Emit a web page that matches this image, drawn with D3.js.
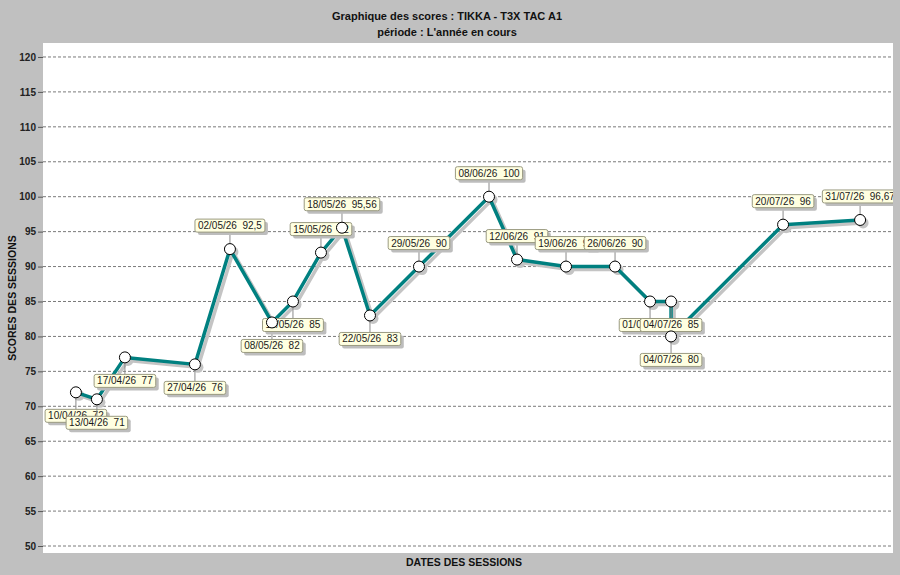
<!DOCTYPE html>
<html>
<head>
<meta charset="utf-8">
<script src="https://cdn.jsdelivr.net/npm/d3@7"></script>
<style>
  body { margin: 0; background: #c0c0c0; }
  svg { display: block; font-family: "Liberation Sans", Arial, sans-serif; }
</style>
</head>
<body>
<svg id="chart" width="900" height="575"></svg>
<script>
// session data
const sessionDates = ["10/04/26", "13/04/26", "17/04/26", "27/04/26", "02/05/26", "08/05/26",
  "11/05/26", "15/05/26", "18/05/26", "22/05/26", "29/05/26", "08/06/26", "12/06/26",
  "19/06/26", "26/06/26", "01/07/26", "04/07/26", "04/07/26", "20/07/26", "31/07/26"];
const sessionScores = [72, 71, 77, 76, 92.5, 82, 85, 92, 95.56, 83, 90, 100, 91, 90, 90,
  85, 85, 80, 96, 96.67];
const yTicks = [50, 55, 60, 65, 70, 75, 80, 85, 90, 95, 100, 105, 110, 115, 120];

const titleLines = ["Graphique des scores : TIKKA - T3X TAC A1", "période : L'année en cours"];
const xTitle = "DATES DES SESSIONS";
const yTitle = "SCORES DES SESSIONS";

const WIDTH = 900;
const HEIGHT = 575;
const plot = { left: 43, top: 43, right: 893, bottom: 553 };

const parseDate = d3.timeParse("%d/%m/%y");
const data = sessionDates.map((d, i) => ({
  label: d,
  date: parseDate(d),
  score: sessionScores[i],
}));

const fr = d3.formatLocale({ decimal: ",", thousands: " ", grouping: [3], currency: ["", " €"] });
const fmt = fr.format("~");

const DAY = 24 * 3600 * 1000;
const pad = 4.7 * DAY;
const [dMin, dMax] = d3.extent(data, (d) => d.date);

const x = d3
  .scaleTime()
  .domain([new Date(+dMin - pad), new Date(+dMax + pad)])
  .range([plot.left, plot.right]);

const y = d3.scaleLinear().domain([49, 122]).range([plot.bottom, plot.top]);

const svg = d3.select("#chart");

svg.append("rect").attr("width", WIDTH).attr("height", HEIGHT).attr("fill", "#c0c0c0");

svg
  .append("rect")
  .attr("x", plot.left)
  .attr("y", plot.top)
  .attr("width", plot.right - plot.left)
  .attr("height", plot.bottom - plot.top)
  .attr("fill", "#ffffff");

svg
  .append("clipPath")
  .attr("id", "plotClip")
  .append("rect")
  .attr("x", plot.left)
  .attr("y", plot.top)
  .attr("width", plot.right - plot.left)
  .attr("height", plot.bottom - plot.top);

// titles
svg
  .selectAll("text.title")
  .data(titleLines)
  .join("text")
  .attr("class", "title")
  .attr("x", 447)
  .attr("y", (d, i) => 20 + i * 16)
  .attr("text-anchor", "middle")
  .attr("font-size", 11)
  .attr("font-weight", "bold")
  .attr("fill", "#111")
  .text((d) => d);

svg
  .append("text")
  .attr("x", 464)
  .attr("y", 566)
  .attr("text-anchor", "middle")
  .attr("font-size", 10.5)
  .attr("font-weight", "bold")
  .attr("fill", "#111")
  .text(xTitle);

svg
  .append("text")
  .attr("transform", `translate(16,${(plot.top + plot.bottom) / 2}) rotate(-90)`)
  .attr("text-anchor", "middle")
  .attr("font-size", 10.5)
  .attr("font-weight", "bold")
  .attr("fill", "#111")
  .text(yTitle);

// y grid
svg
  .append("g")
  .selectAll("line")
  .data(yTicks)
  .join("line")
  .attr("x1", plot.left)
  .attr("x2", plot.right)
  .attr("y1", (d) => y(d))
  .attr("y2", (d) => y(d))
  .attr("stroke", "#7a7a7a")
  .attr("stroke-dasharray", "3,2");

// y axis
const yAxis = svg
  .append("g")
  .attr("transform", `translate(${plot.left},0)`)
  .call(d3.axisLeft(y).tickValues(yTicks).tickSize(5).tickPadding(2));
yAxis.select(".domain").remove();
yAxis.selectAll(".tick line").attr("stroke", "#555");
yAxis
  .selectAll(".tick text")
  .attr("font-family", "Liberation Sans, Arial, sans-serif")
  .attr("font-size", 10)
  .attr("font-weight", "bold")
  .attr("fill", "#222");

const line = d3
  .line()
  .x((d) => x(d.date))
  .y((d) => y(d.score));

const g = svg.append("g").attr("clip-path", "url(#plotClip)");

// shadows
g.append("path")
  .datum(data)
  .attr("d", line)
  .attr("transform", "translate(3,3)")
  .attr("fill", "none")
  .attr("stroke", "#c4c4c4")
  .attr("stroke-width", 3.5)
  .attr("stroke-linejoin", "round");

g.append("g")
  .selectAll("circle")
  .data(data)
  .join("circle")
  .attr("cx", (d) => x(d.date) + 3)
  .attr("cy", (d) => y(d.score) + 3)
  .attr("r", 5.5)
  .attr("fill", "#c4c4c4");

// main line
g.append("path")
  .datum(data)
  .attr("d", line)
  .attr("fill", "none")
  .attr("stroke", "#008080")
  .attr("stroke-width", 3.5)
  .attr("stroke-linejoin", "round");

// labels: above for high scores, below for low ones
const [sMin, sMax] = d3.extent(data, (d) => d.score);
const mid = (sMin + sMax) / 2;
const GAP = 17;
const BOX_H = 13;

const labels = g
  .append("g")
  .selectAll("g")
  .data(data)
  .join("g");

labels.each(function (d) {
  const sel = d3.select(this);
  const px = x(d.date);
  const py = y(d.score);
  const above = d.score > mid;
  const boxTop = above ? py - GAP - BOX_H : py + GAP;
  const lead = sel.append("line");
  const shadow = sel.append("rect");
  const box = sel.append("rect");
  const txt = sel
    .append("text")
    .attr("font-size", 10)
    .attr("fill", "#1a1a1a")
    .attr("xml:space", "preserve")
    .style("white-space", "pre")
    .attr("text-anchor", "middle")
    .attr("x", px)
    .attr("y", boxTop + 10)
    .text(`${d.label}  ${fmt(d.score)}`);
  const w = txt.node().getComputedTextLength() + 6;
  lead
    .attr("x1", px)
    .attr("x2", px)
    .attr("y1", py)
    .attr("y2", above ? boxTop + BOX_H : boxTop)
    .attr("stroke", "#8a8a8a");
  shadow
    .attr("x", px - w / 2 + 3)
    .attr("y", boxTop + 3)
    .attr("width", w)
    .attr("height", BOX_H)
    .attr("rx", 2)
    .attr("fill", "#bdbdbd");
  box
    .attr("x", px - w / 2)
    .attr("y", boxTop)
    .attr("width", w)
    .attr("height", BOX_H)
    .attr("rx", 2)
    .attr("fill", "#ffffe1")
    .attr("stroke", "#9a9a80");
});

// markers on top
g.append("g")
  .selectAll("circle")
  .data(data)
  .join("circle")
  .attr("cx", (d) => x(d.date))
  .attr("cy", (d) => y(d.score))
  .attr("r", 5.5)
  .attr("fill", "#ffffff")
  .attr("stroke", "#000");
</script>
</body>
</html>
